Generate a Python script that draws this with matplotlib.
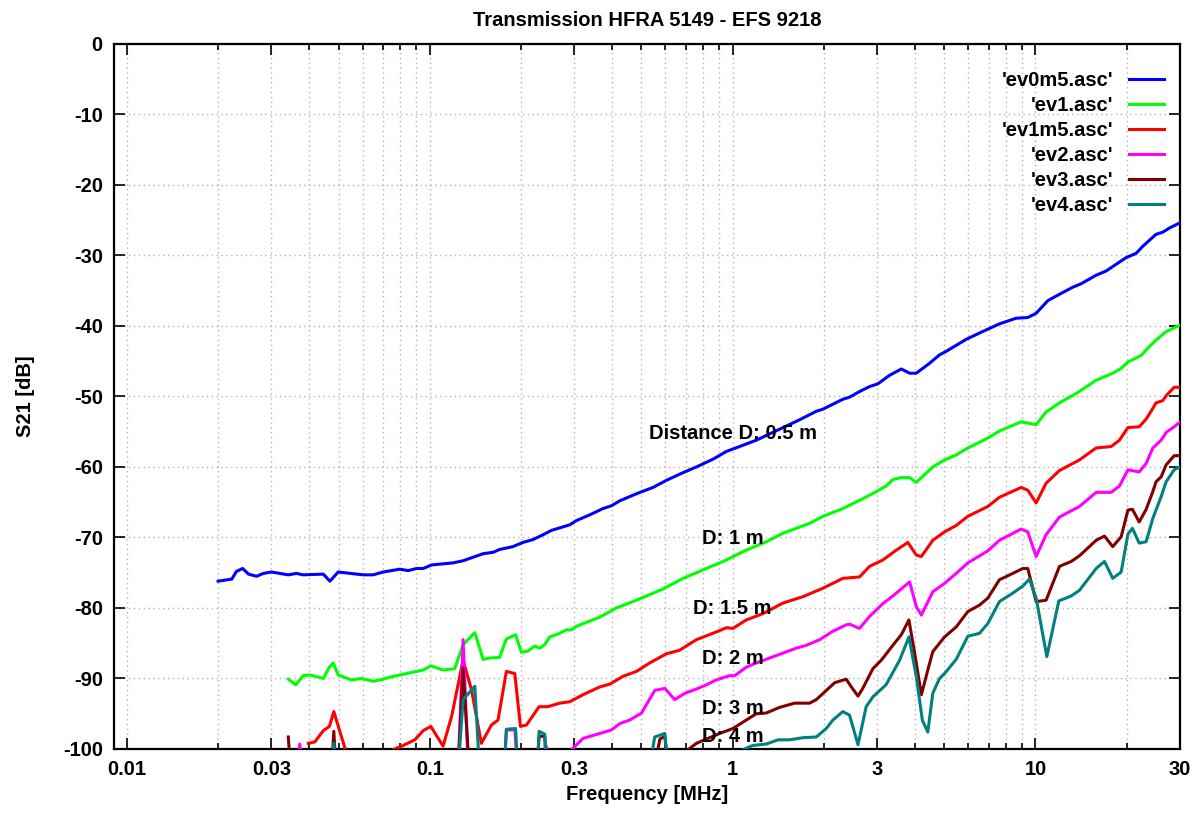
import matplotlib
matplotlib.use("Agg")
import matplotlib.pyplot as plt
from matplotlib.ticker import FixedLocator, FixedFormatter, NullFormatter

plt.rcParams["font.family"] = ["Liberation Sans", "DejaVu Sans"]
plt.rcParams["font.weight"] = "bold"
plt.rcParams["axes.unicode_minus"] = False

# measured curves: (frequency in MHz, S21 in dB); values below -100 dB are off the chart
ev0m5 = [(0.0200, -76.2), (0.0222, -75.9), (0.0230, -74.8), (0.0241, -74.4), (0.0252, -75.2),
         (0.0268, -75.5), (0.0282, -75.1), (0.0300, -74.9), (0.0341, -75.3), (0.0363, -75.1),
         (0.0382, -75.3), (0.0445, -75.2), (0.0468, -76.2), (0.0498, -74.9), (0.0602, -75.3),
         (0.0650, -75.3), (0.0701, -74.9), (0.0796, -74.5), (0.0848, -74.7), (0.0904, -74.4),
         (0.0951, -74.4), (0.1013, -73.9), (0.1194, -73.6), (0.1288, -73.3), (0.150, -72.3),
         (0.162, -72.1), (0.170, -71.7), (0.188, -71.3), (0.203, -70.7), (0.219, -70.3),
         (0.237, -69.6), (0.252, -69.0), (0.275, -68.5), (0.290, -68.2), (0.305, -67.6),
         (0.337, -66.8), (0.373, -65.9), (0.398, -65.5), (0.424, -64.8), (0.481, -63.8),
         (0.546, -62.9), (0.604, -61.9), (0.686, -60.8), (0.759, -60.0), (0.861, -58.9),
         (0.953, -57.8), (1.054, -57.1), (1.197, -56.2), (1.503, -54.2), (1.664, -53.3),
         (1.889, -52.1), (1.986, -51.8), (2.143, -51.1), (2.311, -50.4), (2.432, -50.1),
         (2.624, -49.3), (2.831, -48.6), (3.018, -48.2), (3.297, -47.0), (3.605, -46.1),
         (3.839, -46.7), (4.038, -46.7), (4.467, -45.3), (4.818, -44.1), (5.07, -43.6),
         (5.90, -41.9), (6.53, -41.0), (7.60, -39.7), (8.63, -38.9), (9.43, -38.8),
         (10.05, -38.2), (10.99, -36.4), (12.0, -35.5), (13.28, -34.5), (14.16, -34.0),
         (15.86, -32.8), (17.11, -32.2), (19.92, -30.3), (21.49, -29.7), (22.6, -28.7),
         (25.0, -27.0), (26.3, -26.7), (27.7, -26.1), (29.9, -25.4)]

ev1 = [(0.0341, -90.1), (0.0361, -90.9), (0.0382, -89.6), (0.0402, -89.5), (0.0445, -90.0),
       (0.0466, -88.4), (0.0480, -87.8), (0.0498, -89.5), (0.0552, -90.2), (0.0595, -90.0),
       (0.0650, -90.4), (0.0701, -90.1), (0.0757, -89.7), (0.0817, -89.4), (0.0951, -88.8),
       (0.1008, -88.2), (0.1106, -88.8), (0.1209, -88.6), (0.1288, -85.2), (0.1408, -83.5),
       (0.150, -87.3), (0.1578, -87.1), (0.170, -87.0), (0.179, -84.4), (0.192, -83.8),
       (0.2008, -86.3), (0.211, -86.1), (0.222, -85.4), (0.2307, -85.7), (0.2396, -85.2),
       (0.249, -84.1), (0.2685, -83.6), (0.2825, -83.1), (0.2935, -83.1), (0.305, -82.6),
       (0.364, -81.3), (0.413, -80.0), (0.481, -78.9), (0.589, -77.3), (0.686, -75.8),
       (0.798, -74.6), (0.953, -73.2), (1.082, -72.0), (1.291, -70.6), (1.466, -69.4),
       (1.795, -68.0), (1.986, -67.0), (2.311, -65.9), (2.69, -64.5), (2.98, -63.5),
       (3.21, -62.7), (3.38, -61.8), (3.60, -61.5), (3.84, -61.5), (4.04, -62.2),
       (4.58, -60.0), (5.01, -59.0), (5.47, -58.3), (5.98, -57.3), (6.96, -55.9),
       (7.60, -54.9), (8.97, -53.6), (10.05, -54.0), (10.84, -52.2), (12.0, -50.9),
       (13.6, -49.6), (15.86, -47.7), (17.99, -46.7), (19.18, -46.0), (20.2, -45.1),
       (22.3, -44.2), (23.8, -42.9), (25.0, -42.0), (27.0, -40.8), (29.9, -39.9)]

ev1m5 = [(0.0397, -99.2), (0.0417, -99.0), (0.0445, -97.4), (0.0466, -96.8), (0.0482, -94.7),
         (0.0552, -103), (0.0766, -100.0), (0.0817, -99.5), (0.0892, -98.7), (0.0951, -97.4),
         (0.1008, -96.8), (0.1106, -99.6), (0.118, -95.4), (0.1288, -87.4), (0.1373, -91.6),
         (0.148, -99.2), (0.1598, -96.6), (0.168, -95.9), (0.179, -89.0), (0.1908, -89.3),
         (0.1992, -96.8), (0.2085, -96.6), (0.2296, -94.0), (0.2455, -94.0), (0.2685, -93.5),
         (0.2898, -93.3), (0.3206, -92.3), (0.364, -91.2), (0.393, -90.8), (0.434, -89.7),
         (0.481, -89.0), (0.532, -87.8), (0.604, -86.5), (0.668, -86.0), (0.759, -84.5),
         (0.883, -83.4), (0.953, -82.8), (1.002, -82.9), (1.109, -81.7), (1.259, -80.8),
         (1.466, -79.3), (1.706, -78.4), (1.986, -77.2), (2.311, -75.8), (2.624, -75.6),
         (2.831, -74.1), (3.13, -73.2), (3.47, -71.8), (3.79, -70.7), (4.04, -72.5),
         (4.20, -72.7), (4.58, -70.4), (5.01, -69.2), (5.47, -68.3), (5.98, -67.0),
         (6.96, -65.6), (7.60, -64.3), (8.97, -62.9), (9.43, -63.3), (10.05, -65.1),
         (10.84, -62.3), (12.0, -60.5), (13.97, -59.0), (15.86, -57.3), (17.78, -57.1),
         (18.93, -56.2), (20.2, -54.4), (22.0, -54.3), (23.2, -53.2), (24.4, -51.7),
         (25.0, -50.9), (26.3, -50.6), (27.0, -49.9), (28.7, -48.7), (29.9, -48.7)]

ev2 = [(0.0364, -103), (0.0372, -99.3), (0.0381, -103), (0.124, -103), (0.1288, -84.5),
       (0.134, -103), (0.176, -103), (0.179, -97.3), (0.191, -97.3), (0.195, -103),
       (0.238, -103), (0.2425, -99.6), (0.247, -103), (0.28, -101.0), (0.3206, -98.5),
       (0.364, -97.8), (0.398, -97.3), (0.424, -96.4), (0.457, -95.9), (0.5, -94.9),
       (0.553, -91.7), (0.597, -91.4), (0.644, -93.0), (0.695, -92.1), (0.759, -91.5),
       (0.819, -90.9), (0.883, -90.2), (0.977, -89.6), (1.016, -89.6), (1.109, -88.4),
       (1.197, -87.8), (1.324, -87.1), (1.466, -86.4), (1.622, -85.7), (1.75, -85.3),
       (1.937, -84.5), (2.143, -83.3), (2.371, -82.4), (2.432, -82.3), (2.624, -82.9),
       (2.831, -81.2), (3.13, -79.4), (3.38, -78.3), (3.84, -76.3), (4.04, -79.8),
       (4.20, -81.0), (4.58, -77.7), (5.01, -76.5), (5.47, -75.1), (5.98, -73.6),
       (6.96, -71.9), (7.60, -70.4), (8.97, -68.8), (9.43, -69.2), (10.05, -72.7),
       (10.84, -69.6), (12.0, -67.1), (13.97, -65.6), (15.86, -63.6), (17.78, -63.6),
       (18.93, -62.7), (20.2, -60.4), (22.0, -60.7), (23.2, -59.5), (24.4, -57.3),
       (26.0, -56.2), (27.0, -55.1), (28.7, -54.3), (29.9, -53.7)]

ev3 = [(0.0341, -98.3), (0.0347, -103), (0.0474, -103), (0.0482, -97.5), (0.049, -103),
       (0.124, -103), (0.1288, -88.5), (0.135, -103), (0.226, -103), (0.2296, -98.2),
       (0.2396, -98.2), (0.243, -103), (0.55, -103), (0.575, -98.6), (0.597, -98.2),
       (0.615, -103), (0.66, -103), (0.703, -100.3), (0.759, -99.2), (0.819, -98.6),
       (0.906, -97.8), (1.002, -97.1), (1.109, -95.9), (1.197, -95.0), (1.291, -94.9),
       (1.429, -94.1), (1.602, -93.5), (1.795, -93.5), (1.889, -93.0), (2.173, -90.6),
       (2.371, -90.1), (2.466, -91.2), (2.594, -92.5), (2.69, -91.4), (2.905, -88.6),
       (3.097, -87.4), (3.38, -85.3), (3.605, -83.8), (3.82, -81.7), (3.99, -86.4),
       (4.20, -92.3), (4.41, -88.8), (4.58, -86.2), (5.01, -84.1), (5.47, -82.7),
       (5.98, -80.5), (6.53, -79.6), (6.96, -78.6), (7.60, -76.0), (8.41, -75.1),
       (9.08, -74.4), (9.43, -74.4), (10.05, -79.1), (10.84, -78.9), (12.0, -74.1),
       (13.12, -73.4), (13.97, -72.6), (15.86, -70.4), (16.9, -69.8), (17.99, -71.3),
       (19.18, -69.9), (20.2, -66.1), (20.9, -66.0), (22.0, -67.8), (23.2, -66.0),
       (24.4, -63.5), (25.0, -62.1), (26.0, -61.4), (27.0, -59.7), (28.7, -58.4),
       (29.9, -58.4)]

ev4 = [(0.0474, -103), (0.0482, -99.2), (0.049, -103), (0.124, -103), (0.1288, -93.0),
       (0.1408, -91.1), (0.146, -103), (0.176, -103), (0.179, -97.2), (0.192, -97.1),
       (0.195, -103), (0.226, -103), (0.2296, -97.5), (0.2396, -97.9), (0.243, -103),
       (0.53, -103), (0.553, -98.3), (0.597, -97.8), (0.612, -103), (1.06, -101),
       (1.08, -100.1), (1.166, -99.5), (1.291, -99.3), (1.412, -98.7), (1.542, -98.7),
       (1.706, -98.4), (1.889, -98.3), (2.037, -97.1), (2.143, -95.9), (2.311, -94.7),
       (2.432, -95.2), (2.594, -99.4), (2.76, -94.0), (2.905, -92.6), (3.21, -90.9),
       (3.56, -87.4), (3.82, -84.1), (4.04, -89.7), (4.23, -95.9), (4.41, -97.6),
       (4.58, -92.1), (4.82, -90.0), (5.01, -89.3), (5.47, -87.3), (5.98, -84.0),
       (6.53, -83.6), (6.96, -82.2), (7.60, -79.1), (8.41, -77.9), (9.08, -76.9),
       (9.55, -75.9), (10.05, -78.6), (10.9, -86.9), (11.94, -79.0), (13.12, -78.3),
       (13.97, -77.5), (15.86, -74.4), (16.9, -73.4), (17.99, -75.8), (19.18, -74.9),
       (20.2, -69.5), (20.9, -68.7), (22.0, -70.8), (23.2, -70.6), (24.4, -67.3),
       (26.0, -64.2), (27.0, -62.1), (28.7, -60.4), (29.9, -60.0)]

series = [("'ev0m5.asc'", ev0m5, "#0000ff"),
          ("'ev1.asc'", ev1, "#00ff00"),
          ("'ev1m5.asc'", ev1m5, "#ff0000"),
          ("'ev2.asc'", ev2, "#ff00ff"),
          ("'ev3.asc'", ev3, "#800000"),
          ("'ev4.asc'", ev4, "#008080")]

labels = ["Distance D: 0.5 m", "D: 1 m", "D: 1.5 m", "D: 2 m", "D: 3 m", "D: 4 m"]
label_freq = 1.0
label_db = [-55.2, -70.2, -80.1, -87.2, -94.2, -98.3]

xtick_vals = [0.01, 0.03, 0.1, 0.3, 1, 3, 10, 30]
xtick_text = ["0.01", "0.03", "0.1", "0.3", "1", "3", "10", "30"]

fig = plt.figure(figsize=(12.01, 8.19), dpi=100)
ax = fig.add_axes([0.0949, 0.0855, 0.8876, 0.8608])

for name, pts, col in series:
    f = [p[0] for p in pts]
    db = [p[1] for p in pts]
    ax.plot(f, db, color=col, lw=2.2, label=name, zorder=3)

for txt, y in zip(labels, label_db):
    ax.text(label_freq, y, txt, ha="center", va="center", fontsize=14.5,
            fontweight="bold", zorder=5)

ax.set_xscale("log")
ax.set_xlim(0.00906, 30)
ax.set_ylim(-100, 0)

minor = [m * 10.0 ** e for e in range(-2, 2) for m in range(2, 10)
         if m * 10.0 ** e not in xtick_vals and m * 10.0 ** e <= 30]
ax.xaxis.set_major_locator(FixedLocator(xtick_vals))
ax.xaxis.set_major_formatter(FixedFormatter(xtick_text))
ax.xaxis.set_minor_locator(FixedLocator(minor))
ax.xaxis.set_minor_formatter(NullFormatter())
ax.set_yticks(range(-100, 1, 10))

ax.tick_params(which="both", direction="in", top=True, right=True,
               labelsize=14.5, width=1.2, pad=8)
ax.tick_params(which="major", length=8)
ax.tick_params(which="minor", length=4)
for lab in ax.get_xticklabels() + ax.get_yticklabels():
    lab.set_fontweight("bold")

ax.grid(True, which="both", axis="x", color="#b4b4b4", lw=1.0, ls=(0, (1, 2.5)))
ax.grid(True, which="major", axis="y", color="#b4b4b4", lw=1.0, ls=(0, (1, 2.5)))
ax.set_axisbelow(True)
for sp in ax.spines.values():
    sp.set_linewidth(1.6)

ax.set_title("Transmission HFRA 5149 - EFS 9218", fontsize=14.5, fontweight="bold", pad=13)
ax.set_xlabel("Frequency [MHz]", fontsize=14.5, fontweight="bold", labelpad=4)
ax.set_ylabel("S21 [dB]", fontsize=14.5, fontweight="bold", labelpad=20)

leg = ax.legend(loc="upper right", bbox_to_anchor=(1.0, 0.985), frameon=False,
                markerfirst=False, fontsize=14.5, handlelength=1.75, handletextpad=0.75,
                labelspacing=0.3, borderaxespad=0.4)
for t in leg.get_texts():
    t.set_fontweight("bold")

fig.savefig("out.png", dpi=100)
